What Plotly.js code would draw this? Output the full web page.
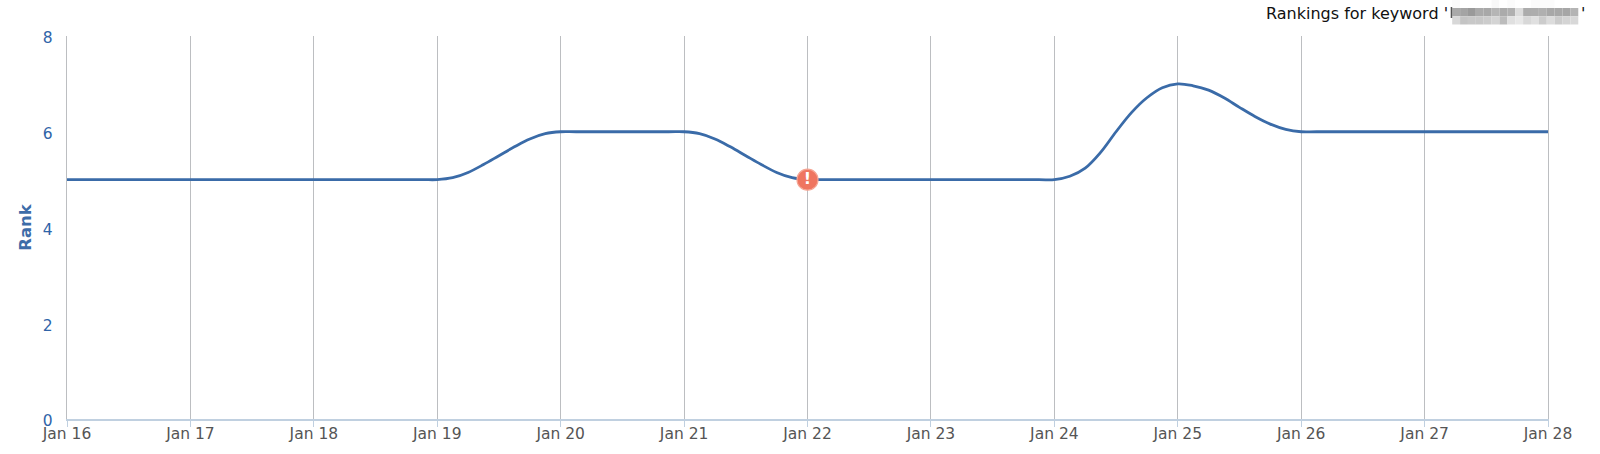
<!DOCTYPE html>
<html><head><meta charset="utf-8">
<script src="https://cdn.plot.ly/plotly-3.0.1.min.js"></script>
<style>html,body{margin:0;padding:0;background:#fff}#c{width:1600px;height:454px}</style>
</head><body><div id="c"></div>
<script>
// Day axis
const dates = ["2015-01-16","2015-01-17","2015-01-18","2015-01-19","2015-01-20","2015-01-21","2015-01-22","2015-01-23","2015-01-24","2015-01-25","2015-01-26","2015-01-27","2015-01-28"];
// The line as it reads off the picture: daily ranks plus readings along each smooth transition
const lineDates = ["2015-01-16","2015-01-17","2015-01-18","2015-01-18 21:00","2015-01-19",
 "2015-01-19 03:00","2015-01-19 06:00","2015-01-19 09:00","2015-01-19 12:00","2015-01-19 15:00","2015-01-19 18:00","2015-01-19 21:00",
 "2015-01-20","2015-01-20 03:00","2015-01-20 21:00","2015-01-21",
 "2015-01-21 03:00","2015-01-21 06:00","2015-01-21 09:00","2015-01-21 12:00","2015-01-21 15:00","2015-01-21 18:00","2015-01-21 21:00",
 "2015-01-22","2015-01-22 03:00","2015-01-23","2015-01-23 21:00","2015-01-24",
 "2015-01-24 03:00","2015-01-24 06:00","2015-01-24 09:00","2015-01-24 12:00","2015-01-24 15:00","2015-01-24 18:00","2015-01-24 21:00",
 "2015-01-25",
 "2015-01-25 03:00","2015-01-25 06:00","2015-01-25 09:00","2015-01-25 12:00","2015-01-25 15:00","2015-01-25 18:00","2015-01-25 21:00",
 "2015-01-26","2015-01-26 03:00","2015-01-27","2015-01-28"];
const lineRanks = [5,5,5,5,5,
 5.04,5.15,5.315,5.5,5.685,5.85,5.96,
 6,6,6,6,
 5.96,5.85,5.685,5.5,5.315,5.15,5.04,
 5,5,5,5,5,
 5.07,5.24,5.57,6.0,6.40,6.71,6.92,
 7,
 6.96,6.87,6.71,6.51,6.32,6.16,6.05,
 6,6,6,6];
const alertDates = ["2015-01-22"];
const alertRanks = [5];
const yTicks = [0,2,4,6,8];
// Greys of the pixelated (censored) part of the title
const blurRow0 = ["#fbfbfb","#ffffff","#ffffff","#ffffff","#ffffff","#f8f8f8","#ffffff","#fbfbfb","#ffffff","#ffffff","#fbfbfb","#fbfbfb","#fbfbfb","#ffffff","#ffffff","#ffffff"];
const blurRow1 = ["#a9a9a9","#a4a4a4","#9a9a9a","#aaaaaa","#a8a8a8","#b5b5b5","#ababab","#b0b0b0","#dcdcdc","#acacac","#adadad","#b0b0b0","#a8a8a8","#a8a8a8","#a6a6a6","#b4b4b4"];
const blurRow2 = ["#d8d8d8","#c4c4c4","#c8c8c8","#c8c8c8","#cccccc","#d4d4d4","#bcbcbc","#e0e0e0","#e8e8e8","#d8d8d8","#e0e0e0","#cccccc","#dcdcdc","#cccccc","#d4d4d4","#d8d8d8"];

const W=1600,H=454,L=66.8,R=1547.8,T=36,B=418.7;
const px = v => (v-L)/(R-L), py = v => (B-v)/(B-T);
const shapes = [];
[blurRow0,blurRow1,blurRow2].forEach((row,r)=>{
  const y0=[0,8,16.3][r], y1=[8,16.3,24.5][r];
  row.forEach((c,i)=>shapes.push({type:"rect",xref:"paper",yref:"paper",layer:"above",
    x0:px(1452+i*7.88),x1:px(1452+(i+1)*7.88),y0:py(y0),y1:py(y1),fillcolor:c,line:{width:0}}));
});
shapes.push({type:"rect",xref:"paper",yref:"paper",layer:"above",x0:px(1450.5),x1:px(1452),y0:py(7),y1:py(18),fillcolor:"#555",line:{width:0}});

const traces = [
 {x:lineDates,y:lineRanks,mode:"lines",line:{color:"#3a6ba8",width:2.8,shape:"spline",smoothing:1},hoverinfo:"x+y",cliponaxis:false},
 {x:alertDates,y:alertRanks,mode:"markers+text",text:["<b>!</b>"],textposition:"middle center",
  textfont:{color:"#fff",size:16,family:"DejaVu Sans"},
  marker:{size:21,color:"#ef7560",line:{color:"#f5a594",width:1.2}},cliponaxis:false}
];
const layout = {
 width:W,height:H,showlegend:false,paper_bgcolor:"#fff",plot_bgcolor:"#fff",
 margin:{l:L,r:W-R,t:T,b:H-B,pad:0},
 font:{family:"DejaVu Sans"},
 shapes:shapes,
 xaxis:{type:"date",range:[dates[0],dates[dates.length-1]],tickvals:dates,tickformat:"%b %d",
  showgrid:true,gridcolor:"#bcbec1",gridwidth:1.35,showline:true,linecolor:"#c0d0e0",linewidth:1.5,
  ticks:"outside",ticklen:6,tickcolor:"#c0d0e0",tickwidth:1,zeroline:false,ticklabelstandoff:-6,
  tickfont:{size:15.5,color:"#555"}},
 yaxis:{range:[0,8],tickvals:yTicks,showgrid:false,zeroline:false,showline:true,mirror:true,linecolor:"#bcbec1",linewidth:1.35,
  ticks:"outside",ticklen:10,tickcolor:"rgba(0,0,0,0)",ticklabelshift:2,
  tickfont:{size:15.5,color:"#2f64a8"},
  title:{text:"<b>Rank</b>",font:{size:16.5,color:"#3d6ca8"},standoff:7}},
 annotations:[
  {xref:"paper",yref:"paper",x:px(1449),y:py(14),xanchor:"right",yanchor:"middle",showarrow:false,borderpad:0,
   text:"Rankings for keyword '",font:{size:16,color:"#111"}},
  {xref:"paper",yref:"paper",x:px(1580),y:py(14),xanchor:"left",yanchor:"middle",showarrow:false,borderpad:0,
   text:"'",font:{size:16,color:"#111"}}
 ]
};
Plotly.newPlot("c",traces,layout,{displayModeBar:false});
</script></body></html>
